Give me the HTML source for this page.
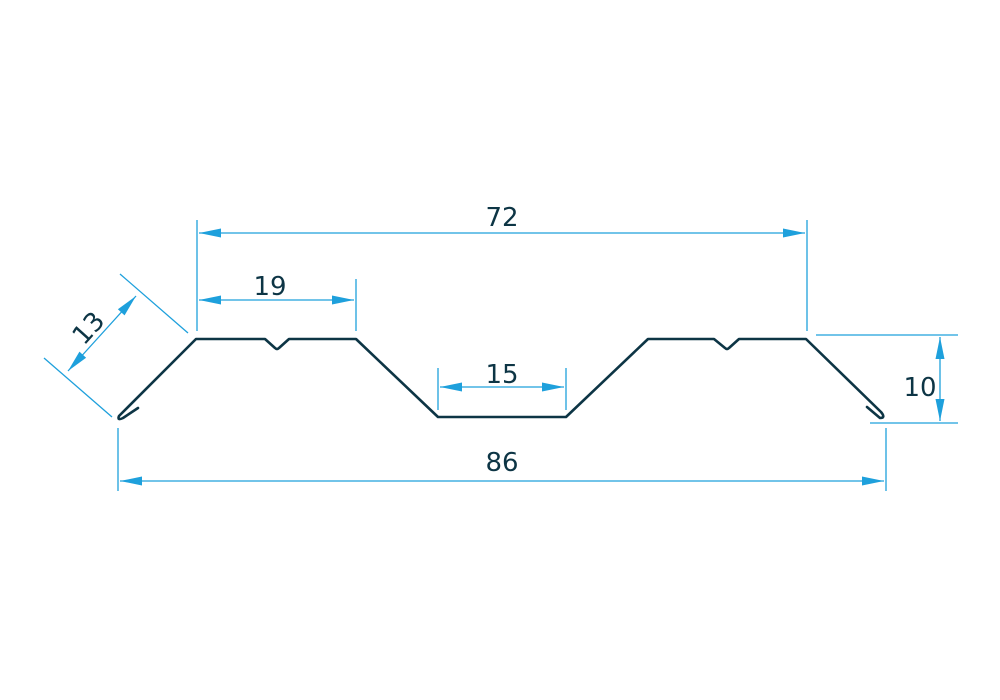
<!DOCTYPE html>
<html><head><meta charset="utf-8"><style>
html,body{margin:0;padding:0;background:#fff;width:1000px;height:700px;overflow:hidden}
text{font-family:"DejaVu Sans","Liberation Sans",sans-serif;font-size:26px;fill:#0d3545}
</style></head><body>
<svg width="1000" height="700" viewBox="0 0 1000 700" xmlns="http://www.w3.org/2000/svg">
<defs>
<marker id="a" viewBox="0 0 10 6" refX="10" refY="3" markerWidth="10" markerHeight="6" markerUnits="userSpaceOnUse" orient="auto-start-reverse" style="overflow:visible">
<path d="M0,-1.5 L22,3 L0,7.5 Z" transform="translate(-12,0)" fill="#1ea0dc"/>
</marker>
</defs>
<g stroke="#1ea0dc" stroke-width="1.3" fill="none">
<line x1="197" y1="220" x2="197" y2="331"/>
<line x1="807" y1="220" x2="807" y2="331"/>
<line x1="356" y1="279" x2="356" y2="331"/>
<line x1="438" y1="368" x2="438" y2="410"/>
<line x1="566" y1="368" x2="566" y2="410"/>
<line x1="118" y1="428" x2="118" y2="491"/>
<line x1="886" y1="428" x2="886" y2="491"/>
<line x1="816" y1="335" x2="958" y2="335"/>
<line x1="870" y1="423" x2="958" y2="423"/>
<line x1="44" y1="358" x2="112" y2="417"/>
<line x1="120" y1="274" x2="188" y2="333"/>
<line x1="199" y1="233" x2="805" y2="233" marker-start="url(#a)" marker-end="url(#a)"/>
<line x1="199" y1="300" x2="354" y2="300" marker-start="url(#a)" marker-end="url(#a)"/>
<line x1="440" y1="387" x2="564" y2="387" marker-start="url(#a)" marker-end="url(#a)"/>
<line x1="120" y1="481" x2="884" y2="481" marker-start="url(#a)" marker-end="url(#a)"/>
<line x1="940" y1="337" x2="940" y2="421" marker-start="url(#a)" marker-end="url(#a)"/>
<line x1="68" y1="371" x2="136" y2="296" marker-start="url(#a)" marker-end="url(#a)"/>
</g>
<g stroke="#0d3545" stroke-width="2.6" fill="none" stroke-linejoin="round" stroke-linecap="round">
<path d="M138,408 L123,418 Q117,421 119,416 L196,339 L265,339 L275,348 Q277,350 279,348 L289,339 L356,339 L438,417 L566,417 L648,339 L714,339 L725,348 Q727,350 729,348 L739,339 L806,339 L881,412 Q886,418 880,418 L867,407"/>
</g>
<text x="502" y="226" text-anchor="middle">72</text>
<text x="270" y="295" text-anchor="middle">19</text>
<text x="502" y="383" text-anchor="middle">15</text>
<text x="502" y="471" text-anchor="middle">86</text>
<text x="920" y="396" text-anchor="middle">10</text>
<text x="0" y="0" text-anchor="middle" transform="translate(95,334) rotate(-48)">13</text>
</svg>
</body></html>
